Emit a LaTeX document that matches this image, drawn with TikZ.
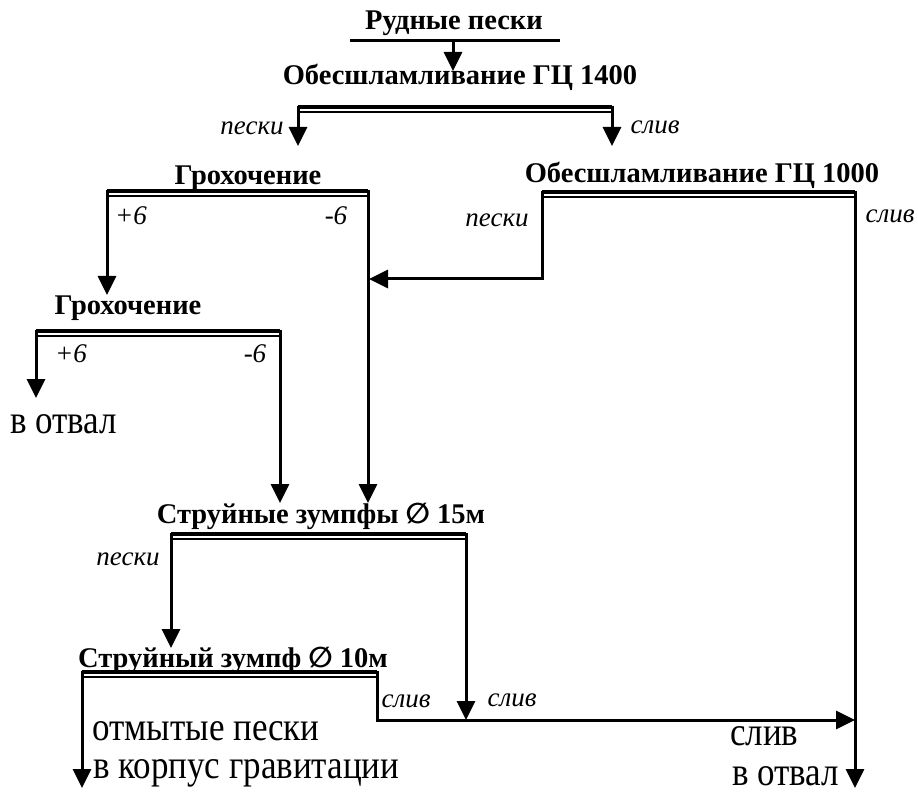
\documentclass[tikz,border=0pt]{standalone}
\usepackage{fontspec}
\setmainfont{Liberation Serif}
\newfontfamily\symf{DejaVu Sans}
\usetikzlibrary{arrows.meta}
\tikzset{
  flow/.style={line width=3pt},
  arr/.style={flow, -{Triangle[width=18pt,length=19pt]}},
  ttl/.style={font=\bfseries\fontsize{28.5}{32}\selectfont, inner sep=0pt, anchor=base},
  lbl/.style={font=\itshape\fontsize{27}{30}\selectfont, inner sep=0pt, anchor=base},
  txt/.style={font=\fontsize{35}{38}\selectfont, inner sep=0pt, anchor=base west},
  bartop/.style={line width=3.5pt},
  barbot/.style={line width=2pt},
}
\newcommand\dbar[3]{%
  \draw[bartop] (#1,#3) -- (#2,#3);
  \draw[barbot] (#1,#3+5) -- (#2,#3+5);
}
\newcommand\tall[1]{\scalebox{1}[1.15]{#1}}
\newcommand\diam{{\symf\bfseries ∅}}
\begin{document}
\begin{tikzpicture}[x=1pt,y=-1pt]
\useasboundingbox (0,0) rectangle (918,794);
% titles
\node[ttl] (t0) at (454,30) {Рудные пески};
\node[ttl] (t1) at (460,85) {Обесшламливание ГЦ 1400};
\node[ttl] (t2) at (248,185) {Грохочение};
\node[ttl] (t3) at (702,183) {Обесшламливание ГЦ 1000};
\node[ttl] (t4) at (128,315) {Грохочение};
\node[ttl] (t5) at (321,523) {Струйные зумпфы \diam{} 15м};
\node[ttl] (t6) at (233,667) {Струйный зумпф \diam{} 10м};
% feed
\coordinate (f0l) at (350,41);
\coordinate (f0r) at (560,41);
\coordinate (f0) at (453,41);
\coordinate (f1) at (453,71);
\draw[flow] (f0l) -- (f0r);
\draw[arr] (f0) -- (f1);
% bar 1
\dbar{298}{612}{107}
\coordinate (b1l) at (298,106); \coordinate (b1r) at (612,106);
\coordinate (b1la) at (298,146); \coordinate (b1ra) at (612,146);
\draw[arr] (b1l) -- (b1la);
\draw[arr] (b1r) -- (b1ra);
\node[lbl] (l1) at (252,135) {пески};
\node[lbl] (l2) at (655,134) {слив};
% bar 2
\dbar{107}{368}{191}
\coordinate (b2l) at (107,190); \coordinate (b2la) at (107,295);
\coordinate (b2r) at (368,190); \coordinate (b2ra) at (368,503);
\draw[arr] (b2l) -- (b2la);
\draw[arr] (b2r) -- (b2ra);
\node[lbl] (l3) at (131,225) {+6};
\node[lbl] (l4) at (336,225) {-6};
% bar 3
\dbar{542}{855}{192}
\coordinate (b3l) at (542,191); \coordinate (b3c) at (542,279);
\coordinate (b3a) at (369,279);
\coordinate (b3r) at (855,191); \coordinate (b3ra) at (855,788);
\draw[arr] (b3l) -- (b3c) -- (b3a);
\draw[arr] (b3r) -- (b3ra);
\node[lbl] (l5) at (497,227) {пески};
\node[lbl] (l6) at (890,223) {слив};
% bar 4
\dbar{36}{280}{331}
\coordinate (b4l) at (36,330); \coordinate (b4la) at (36,398);
\coordinate (b4r) at (280,330); \coordinate (b4ra) at (280,503);
\draw[arr] (b4l) -- (b4la);
\draw[arr] (b4r) -- (b4ra);
\node[lbl] (l7) at (71,362) {+6};
\node[lbl] (l8) at (255,362) {-6};
\node[txt] (o1) at (10,433) {\tall{в отвал}};
% bar 5
\dbar{171}{466}{534}
\coordinate (b5l) at (171,533); \coordinate (b5la) at (171,648);
\coordinate (b5r) at (466,533); \coordinate (b5ra) at (466,720);
\draw[arr] (b5l) -- (b5la);
\draw[arr] (b5r) -- (b5ra);
\node[lbl] (l9) at (128,565) {пески};
% bar 6
\dbar{82}{377}{672}
\coordinate (b6l) at (82,671); \coordinate (b6la) at (82,788);
\coordinate (b6r) at (377,671); \coordinate (b6c) at (377,720);
\coordinate (b6a) at (855,720);
\draw[arr] (b6l) -- (b6la);
\draw[arr] (b6r) -- (b6c) -- (b6a);
\node[lbl] (l10) at (406,707) {слив};
\node[lbl] (l11) at (512,706) {слив};
\node[txt] (o2) at (92,740) {\tall{отмытые пески}};
\node[txt] (o3) at (93,778) {\tall{в корпус гравитации}};
\node[txt] (o4) at (730,745) {\tall{слив}};
\node[txt] (o5) at (732,785) {\tall{в отвал}};
\end{tikzpicture}
\end{document}
